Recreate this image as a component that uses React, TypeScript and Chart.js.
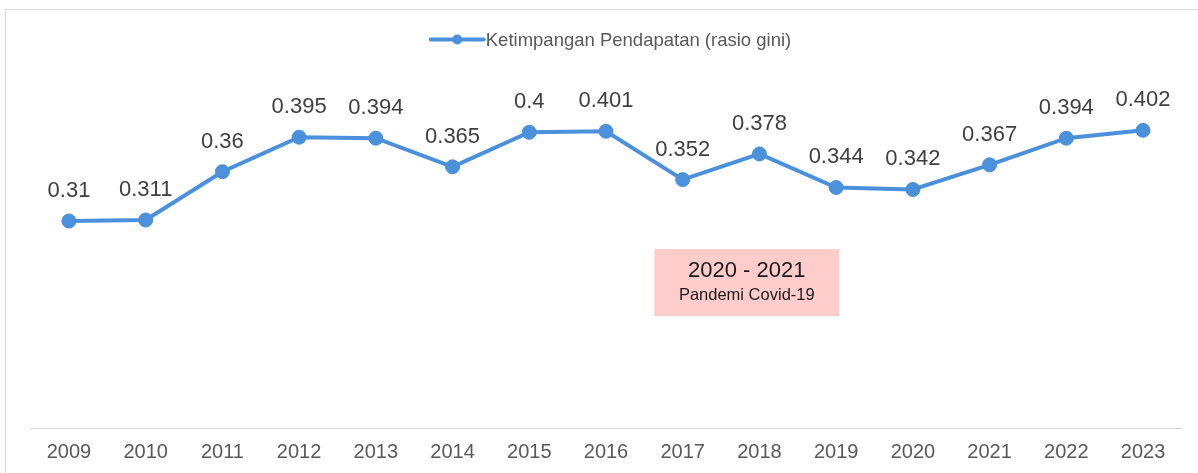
import React, { useEffect, useRef } from "react";
import { Chart, registerables } from "chart.js";

Chart.register(...registerables);

const YEARS = ["2009", "2010", "2011", "2012", "2013", "2014", "2015", "2016", "2017", "2018", "2019", "2020", "2021", "2022", "2023"];
const GINI = [0.31, 0.311, 0.36, 0.395, 0.394, 0.365, 0.4, 0.401, 0.352, 0.378, 0.344, 0.342, 0.367, 0.394, 0.402];
const SERIES_LABEL = "Ketimpangan Pendapatan (rasio gini)";
const Y_MIN = 0.1;
const Y_MAX = 0.45;

const NOTE_TITLE = "2020 - 2021";
const NOTE_SUBTITLE = "Pandemi Covid-19";
// note box extent in data units (category index, value)
const NOTE_X = [7.63, 10.04];
const NOTE_Y = [0.2815, 0.2135];

const FONT = "'Liberation Sans', Arial, Helvetica, sans-serif";
const BLUE = "#4a90da";

export default function App() {
  const ref = useRef<HTMLCanvasElement | null>(null);

  useEffect(() => {
    const canvas = ref.current;
    if (!canvas) return;

    const framePlugin = {
      id: "frame",
      beforeDraw(chart: any) {
        const ctx = chart.ctx;
        ctx.save();
        ctx.fillStyle = "#ffffff";
        ctx.fillRect(0, 0, chart.width, chart.height);
        ctx.strokeStyle = "#d9d9d9";
        ctx.lineWidth = 1;
        ctx.strokeRect(5.5, 9.5, 3000, 3000);
        ctx.restore();
      },
    };

    const legendPlugin = {
      id: "customLegend",
      afterDraw(chart: any) {
        const ctx = chart.ctx;
        const ds = chart.data.datasets[0];
        ctx.save();
        ctx.font = `18.5px ${FONT}`;
        const tw = ctx.measureText(ds.label).width;
        const lineW = 53;
        const gap = 2;
        const total = lineW + gap + tw;
        const x0 = 611 - total / 2;
        const y = 39.5;
        ctx.strokeStyle = ds.borderColor;
        ctx.lineWidth = 4;
        ctx.lineCap = "round";
        ctx.beginPath();
        ctx.moveTo(x0, y);
        ctx.lineTo(x0 + lineW, y);
        ctx.stroke();
        ctx.fillStyle = ds.borderColor;
        ctx.beginPath();
        ctx.arc(x0 + lineW / 2, y, 5, 0, Math.PI * 2);
        ctx.fill();
        ctx.fillStyle = "#595959";
        ctx.textBaseline = "middle";
        ctx.textAlign = "left";
        ctx.fillText(ds.label, x0 + lineW + gap, y + 1);
        ctx.restore();
      },
    };

    const labelsPlugin = {
      id: "valueLabels",
      afterDatasetsDraw(chart: any) {
        const ctx = chart.ctx;
        const meta = chart.getDatasetMeta(0);
        const values = chart.data.datasets[0].data;
        ctx.save();
        ctx.font = `22px ${FONT}`;
        ctx.fillStyle = "#404040";
        ctx.textAlign = "center";
        ctx.textBaseline = "alphabetic";
        meta.data.forEach((pt: any, i: number) => {
          ctx.fillText(String(values[i]), pt.x, pt.y - 24);
        });
        ctx.restore();
      },
    };

    const notePlugin = {
      id: "note",
      afterDraw(chart: any) {
        const ctx = chart.ctx;
        const xs = chart.scales.x;
        const ys = chart.scales.y;
        const x1 = xs.getPixelForValue(NOTE_X[0]);
        const x2 = xs.getPixelForValue(NOTE_X[1]);
        const y1 = ys.getPixelForValue(NOTE_Y[0]);
        const y2 = ys.getPixelForValue(NOTE_Y[1]);
        ctx.save();
        ctx.fillStyle = "#ffcccc";
        ctx.fillRect(x1, y1, x2 - x1, y2 - y1);
        const cx = (x1 + x2) / 2;
        ctx.fillStyle = "#1a1a1a";
        ctx.textAlign = "center";
        ctx.textBaseline = "middle";
        ctx.font = `22px ${FONT}`;
        ctx.fillText(NOTE_TITLE, cx, y1 + 22);
        ctx.font = `16.5px ${FONT}`;
        ctx.fillText(NOTE_SUBTITLE, cx, y1 + 46);
        ctx.restore();
      },
    };

    const chart = new Chart(canvas, {
      type: "line",
      data: {
        labels: YEARS,
        datasets: [
          {
            label: SERIES_LABEL,
            data: GINI,
            borderColor: BLUE,
            backgroundColor: BLUE,
            borderWidth: 4,
            pointRadius: 7,
            pointBorderWidth: 1,
            pointBackgroundColor: BLUE,
            pointBorderColor: BLUE,
            tension: 0,
            fill: false,
          },
        ],
      },
      options: {
        responsive: false,
        animation: false,
        devicePixelRatio: 1,
        layout: { padding: { left: 30.6, right: 16.6, top: 83, bottom: 9 } },
        plugins: {
          legend: { display: false },
          tooltip: { enabled: false },
          title: { display: false },
        },
        scales: {
          x: {
            offset: true,
            grid: { display: false, drawTicks: false },
            border: { display: true, color: "#d9d9d9", width: 1 },
            ticks: {
              color: "#595959",
              font: { family: FONT, size: 20 },
              padding: 12,
              maxRotation: 0,
              autoSkip: false,
            },
            afterFit(scale: any) {
              scale.height = 36;
            },
          },
          y: { display: false, min: Y_MIN, max: Y_MAX },
        },
      },
      plugins: [framePlugin, legendPlugin, labelsPlugin, notePlugin],
    } as any);

    return () => chart.destroy();
  }, []);

  return (
    <div style={{ position: "fixed", left: 0, top: 0, width: 1198, height: 473, overflow: "hidden", background: "#fff" }}>
      <canvas ref={ref} width={1198} height={473} style={{ display: "block", width: 1198, height: 473 }} />
    </div>
  );
}
